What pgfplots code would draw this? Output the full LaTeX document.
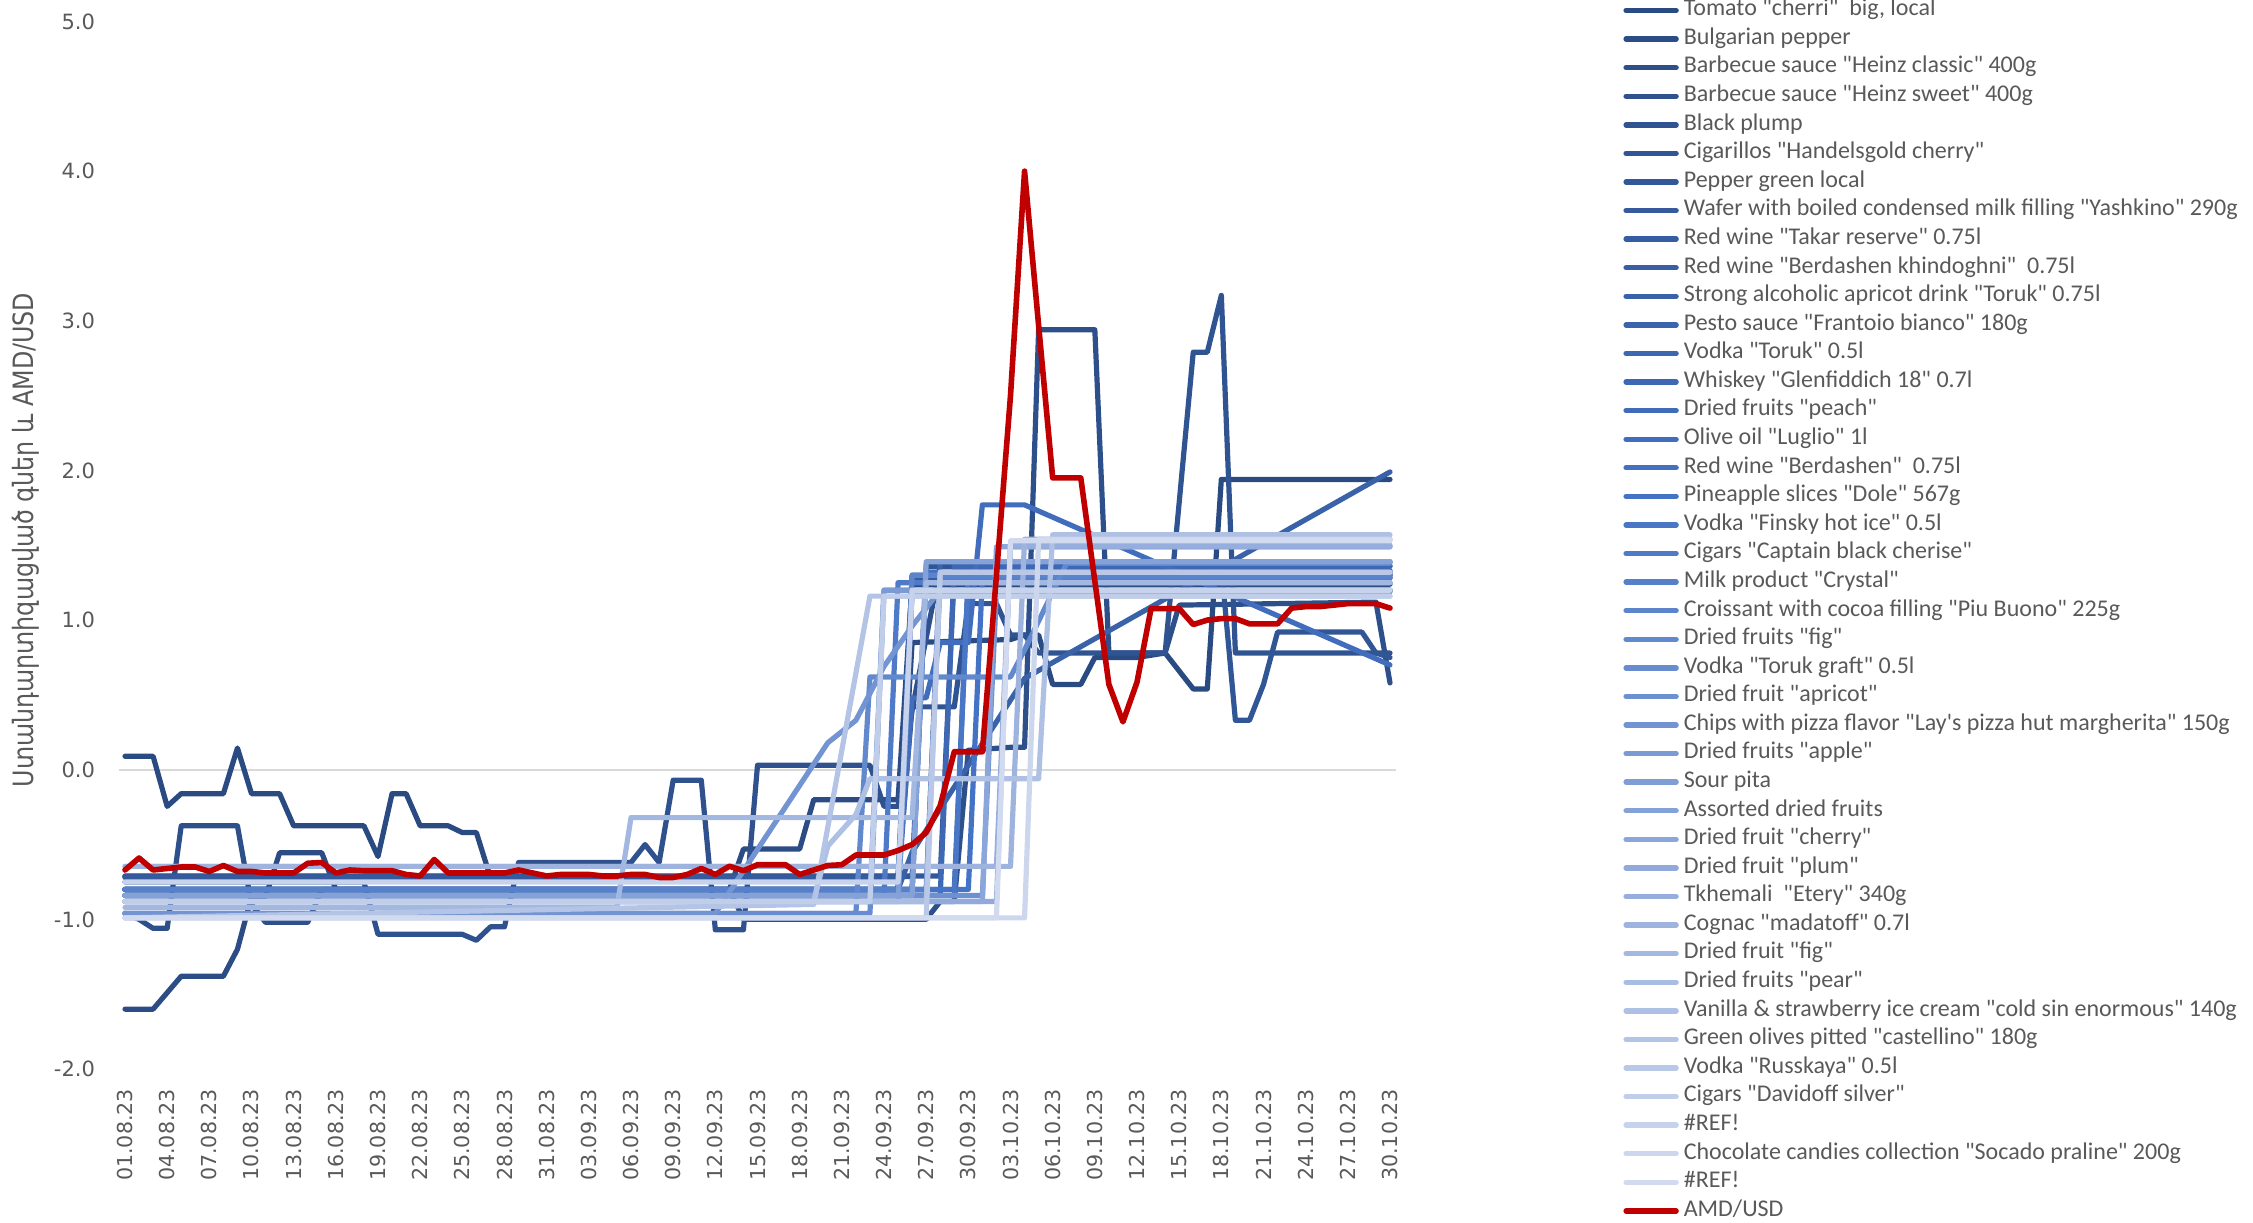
\documentclass[border=0pt]{standalone}
\usepackage{pgfplots}
\pgfplotsset{compat=1.18}
\usepackage{fontspec}
\setmainfont{Carlito}[Ligatures=TeXOff]
\newfontfamily\tickfont{DejaVu Sans}
\newfontfamily\armfont[FakeStretch=0.85]{DejaVu Sans}
\definecolor{txt}{HTML}{595959}
\definecolor{cdark}{HTML}{2A4A82}
\definecolor{cbase}{HTML}{4472C4}
\definecolor{clight}{HTML}{D2DAEF}
\definecolor{cred}{HTML}{C00000}
\colorlet{s1}{cdark}
\colorlet{s2}{cbase!6!cdark}
\colorlet{s3}{cbase!12!cdark}
\colorlet{s4}{cbase!18!cdark}
\colorlet{s5}{cbase!24!cdark}
\colorlet{s6}{cbase!29!cdark}
\colorlet{s7}{cbase!35!cdark}
\colorlet{s8}{cbase!41!cdark}
\colorlet{s9}{cbase!47!cdark}
\colorlet{s10}{cbase!53!cdark}
\colorlet{s11}{cbase!59!cdark}
\colorlet{s12}{cbase!65!cdark}
\colorlet{s13}{cbase!71!cdark}
\colorlet{s14}{cbase!76!cdark}
\colorlet{s15}{cbase!82!cdark}
\colorlet{s16}{cbase!88!cdark}
\colorlet{s17}{cbase!94!cdark}
\colorlet{s18}{cbase}
\colorlet{s19}{clight!4!cbase}
\colorlet{s20}{clight!8!cbase}
\colorlet{s21}{clight!13!cbase}
\colorlet{s22}{clight!17!cbase}
\colorlet{s23}{clight!21!cbase}
\colorlet{s24}{clight!25!cbase}
\colorlet{s25}{clight!29!cbase}
\colorlet{s26}{clight!33!cbase}
\colorlet{s27}{clight!38!cbase}
\colorlet{s28}{clight!42!cbase}
\colorlet{s29}{clight!46!cbase}
\colorlet{s30}{clight!50!cbase}
\colorlet{s31}{clight!54!cbase}
\colorlet{s32}{clight!58!cbase}
\colorlet{s33}{clight!63!cbase}
\colorlet{s34}{clight!67!cbase}
\colorlet{s35}{clight!71!cbase}
\colorlet{s36}{clight!75!cbase}
\colorlet{s37}{clight!79!cbase}
\colorlet{s38}{clight!83!cbase}
\colorlet{s39}{clight!88!cbase}
\colorlet{s40}{clight!92!cbase}
\colorlet{s41}{clight!96!cbase}
\colorlet{s42}{clight}
\begin{document}
\begin{tikzpicture}
\useasboundingbox (0,0) rectangle (1126.5pt,611pt);
\begin{axis}[
  at={(62.5pt,76.5pt)}, anchor=south west,
  scale only axis, width=632.5pt, height=523.75pt,
  xmin=0, xmax=90, ymin=-2, ymax=5,
  clip=false,
  axis line style={draw=none},
  major tick length=0pt,
  tick style={draw=none},
  ytick={-2,-1,0,1,2,3,4,5},
  yticklabels={-2.0,-1.0,0.0,1.0,2.0,3.0,4.0,5.0},
  yticklabel style={font=\tickfont\fontsize{10.5}{12}\selectfont, text=txt, xshift=-11.5pt},
  xtick={0,3,...,90},
  xticklabels={01.08.23,04.08.23,07.08.23,10.08.23,13.08.23,16.08.23,19.08.23,22.08.23,25.08.23,28.08.23,31.08.23,03.09.23,06.09.23,09.09.23,12.09.23,15.09.23,18.09.23,21.09.23,24.09.23,27.09.23,30.09.23,03.10.23,06.10.23,09.10.23,12.10.23,15.10.23,18.10.23,21.10.23,24.10.23,27.10.23,30.10.23},
  xticklabel style={font=\tickfont\fontsize{10.3}{12}\selectfont, text=txt, yshift=-6.5pt, rotate=90, anchor=east},
  ylabel={\armfont\fontsize{14}{16}\selectfont Ստանդարտիզացված գներ և AMD/USD},
  ylabel style={at={(axis description cs:-0.0783,0.505)}, anchor=center, text=txt},
  every axis plot/.append style={line width=2.6pt, line join=round, line cap=round, mark=none},
  legend cell align=left,
  legend image code/.code={\draw[line width=2.7pt, line cap=round] (0pt,0pt) -- (25pt,0pt);},
  legend style={at={(axis description cs:1.18419,1.02454)}, anchor=north west, draw=none, fill=none,
    inner xsep=0pt, inner ysep=0pt, row sep=0pt, column sep=2.5pt,
    font=\fontsize{12}{14}\selectfont, text=txt,
    nodes={inner sep=0pt, text height=9.8pt, text depth=4.49pt}},
]
\draw[color=black!15, line width=1pt] (axis cs:-0.4,0) -- (axis cs:90.4,0);

\addplot[s1] coordinates {(0,0.09)(2,0.09)(3,-0.245)(4,-0.16)(7,-0.16)(8,0.145)(9,-0.16)(11,-0.16)(12,-0.375)(17,-0.375)(18,-0.58)(19,-0.16)(20,-0.16)(21,-0.375)(23,-0.375)(24,-0.42)(25,-0.42)(26,-0.72)(55,-0.72)(56,0.85)(63,0.87)(64,0.9)(65,0.9)(66,0.57)(68,0.57)(69,0.75)(72,0.75)(74,0.78)(76,0.54)(77,0.54)(78,1.94)(90,1.94)};
\addlegendentry{Tomato "cherri"\ \ big, local}
\addplot[s2] coordinates {(0,-1.6)(2,-1.6)(4,-1.38)(7,-1.38)(8,-1.2)(9,-0.85)(10,-0.85)(11,-0.555)(14,-0.555)(15,-0.8)(43,-0.8)(44,-0.53)(48,-0.53)(49,-0.2)(55,-0.2)(56,1.24)(90,1.24)};
\addlegendentry{Bulgarian pepper}
\addplot[s3] coordinates {(0,-0.96)(1,-1.0)(2,-1.06)(3,-1.06)(4,-0.375)(8,-0.375)(9,-0.9)(10,-1.02)(13,-1.02)(14,-0.8)(43,-0.8)(44,-1.0)(57,-1.0)(58,-0.88)(59,-0.88)(60,0.13)(63,0.15)(64,0.15)(65,2.94)(69,2.94)(70,0.78)(74,0.78)(75,1.1)(89,1.12)(90,0.58)};
\addlegendentry{Barbecue sauce "Heinz classic" 400g}
\addplot[s4] coordinates {(0,-0.75)(17,-0.75)(18,-1.1)(24,-1.1)(25,-1.14)(26,-1.05)(27,-1.05)(28,-0.62)(36,-0.62)(37,-0.5)(38,-0.62)(39,-0.07)(41,-0.07)(42,-1.07)(44,-1.07)(45,0.03)(53,0.03)(54,-0.245)(55,-0.245)(56,0.4)(58,1.36)(90,1.36)};
\addlegendentry{Barbecue sauce "Heinz sweet" 400g}
\addplot[s5] coordinates {(0,-0.714)(55,-0.714)(56,0.42)(59,0.42)(60,1.11)(62,1.11)(63,0.9)(64,0.9)(65,0.78)(74,0.78)(76,2.79)(77,2.79)(78,3.17)(79,0.78)(90,0.78)};
\addlegendentry{Black plump}
\addplot[s6] coordinates {(0,-0.714)(56,-0.714)(57,1.36)(78,1.36)(79,0.33)(80,0.33)(81,0.57)(82,0.92)(88,0.92)(89,0.78)(90,0.75)};
\addlegendentry{Cigarillos "Handelsgold cherry"}
\addplot[s7] coordinates {(0,-0.71)(58,-0.71)(59,1.33)(90,1.33)};
\addlegendentry{Pepper green local}
\addplot[s8] coordinates {(0,-0.72)(55,-0.72)(56,1.3)(90,1.3)};
\addlegendentry{Wafer with boiled condensed milk filling "Yashkino" 290g}
\addplot[s9] coordinates {(0,-0.8)(55,-0.8)(56,1.285)(90,1.285)};
\addlegendentry{Red wine "Takar reserve" 0.75l}
\addplot[s10] coordinates {(0,-0.8)(56,-0.8)(57,1.32)(90,1.32)};
\addlegendentry{Red wine "Berdashen khindoghni"\ \ 0.75l}
\addplot[s11] coordinates {(0,-0.8)(55,-0.8)(56,-0.55)(64,0.61)(90,1.99)};
\addlegendentry{Strong alcoholic apricot drink "Toruk" 0.75l}
\addplot[s12] coordinates {(0,-0.84)(57,-0.84)(58,1.39)(90,1.39)};
\addlegendentry{Pesto sauce "Frantoio bianco" 180g}
\addplot[s13] coordinates {(0,-0.8)(59,-0.8)(60,1.3)(90,1.3)};
\addlegendentry{Vodka "Toruk" 0.5l}
\addplot[s14] coordinates {(0,-0.84)(58,-0.84)(59,1.36)(90,1.36)};
\addlegendentry{Whiskey "Glenfiddich 18" 0.7l}
\addplot[s15] coordinates {(0,-0.8)(55,-0.8)(56,1.2)(90,1.2)};
\addlegendentry{Dried fruits "peach"}
\addplot[s16] coordinates {(0,-0.8)(55,-0.8)(56,0.48)(57,0.48)(58,0.85)(60,0.85)(61,1.77)(64,1.77)(90,0.70)};
\addlegendentry{Olive oil "Luglio" 1l}
\addplot[s17] coordinates {(0,-0.8)(56,-0.8)(57,1.32)(90,1.32)};
\addlegendentry{Red wine "Berdashen"\ \ 0.75l}
\addplot[s18] coordinates {(0,-0.8)(60,-0.8)(61,1.285)(90,1.285)};
\addlegendentry{Pineapple slices "Dole" 567g}
\addplot[s19] coordinates {(0,-0.84)(59,-0.84)(60,1.31)(90,1.31)};
\addlegendentry{Vodka "Finsky hot ice" 0.5l}
\addplot[s20] coordinates {(0,-0.84)(54,-0.84)(55,1.25)(90,1.25)};
\addlegendentry{Cigars "Captain black cherise"}
\addplot[s21] coordinates {(0,-0.8)(57,-0.8)(58,1.28)(90,1.28)};
\addlegendentry{Milk product "Crystal"}
\addplot[s22] coordinates {(0,-0.84)(55,-0.84)(56,1.3)(90,1.3)};
\addlegendentry{Croissant with cocoa filling "Piu Buono" 225g}
\addplot[s23] coordinates {(0,-0.96)(52,-0.96)(53,0.62)(63,0.62)(64,0.8)(67,1.38)(90,1.38)};
\addlegendentry{Dried fruits "fig"}
\addplot[s24] coordinates {(0,-0.96)(53,-0.96)(54,1.2)(90,1.2)};
\addlegendentry{Vodka "Toruk graft" 0.5l}
\addplot[s25] coordinates {(0,-0.84)(61,-0.84)(62,1.19)(90,1.19)};
\addlegendentry{Dried fruit "apricot"}
\addplot[s26] coordinates {(0,-0.96)(42,-0.96)(50,0.18)(52,0.33)(54,0.69)(56,0.96)(58,1.2)(90,1.2)};
\addlegendentry{Chips with pizza flavor "Lay's pizza hut margherita" 150g}
\addplot[s27] coordinates {(0,-0.84)(53,-0.84)(54,1.2)(90,1.2)};
\addlegendentry{Dried fruits "apple"}
\addplot[s28] coordinates {(0,-0.88)(55,-0.88)(56,1.19)(90,1.19)};
\addlegendentry{Sour pita}
\addplot[s29] coordinates {(0,-0.84)(56,-0.84)(57,1.39)(90,1.39)};
\addlegendentry{Assorted dried fruits}
\addplot[s30] coordinates {(0,-0.88)(61,-0.88)(62,1.49)(90,1.49)};
\addlegendentry{Dried fruit "cherry"}
\addplot[s31] coordinates {(0,-0.88)(62,-0.88)(63,1.49)(90,1.49)};
\addlegendentry{Dried fruit "plum"}
\addplot[s32] coordinates {(0,-0.646)(62,-0.646)(63,1.5)(90,1.5)};
\addlegendentry{Tkhemali\ \ "Etery" 340g}
\addplot[s33] coordinates {(0,-0.646)(63,-0.646)(64,1.54)(90,1.54)};
\addlegendentry{Cognac "madatoff" 0.7l}
\addplot[s34] coordinates {(0,-0.92)(35,-0.92)(36,-0.32)(56,-0.32)(57,1.25)(90,1.25)};
\addlegendentry{Dried fruit "fig"}
\addplot[s35] coordinates {(0,-0.88)(57,-0.88)(58,1.32)(90,1.32)};
\addlegendentry{Dried fruits "pear"}
\addplot[s36] coordinates {(0,-0.88)(49,-0.88)(50,-0.51)(52,-0.3)(53,-0.06)(65,-0.06)(66,1.57)(90,1.57)};
\addlegendentry{Vanilla \& strawberry ice cream "cold sin enormous" 140g}
\addplot[s37] coordinates {(0,-0.99)(49,-0.9)(53,1.16)(90,1.16)};
\addlegendentry{Green olives pitted "castellino" 180g}
\addplot[s38] coordinates {(0,-0.99)(57,-0.99)(58,1.32)(90,1.32)};
\addlegendentry{Vodka "Russkaya" 0.5l}
\addplot[s39] coordinates {(0,-0.88)(53,-0.88)(54,1.16)(90,1.16)};
\addlegendentry{Cigars "Davidoff silver"}
\addplot[s40] coordinates {(0,-0.75)(55,-0.75)(56,1.2)(90,1.2)};
\addlegendentry{\#REF!}
\addplot[s41] coordinates {(0,-0.99)(64,-0.99)(65,1.54)(90,1.54)};
\addlegendentry{Chocolate candies collection "Socado praline" 200g}
\addplot[s42] coordinates {(0,-0.99)(62,-0.99)(63,1.53)(90,1.53)};
\addlegendentry{\#REF!}
\addplot[cred, line width=2.8pt] coordinates {(0,-0.67)(1,-0.59)(2,-0.67)(3,-0.66)(4,-0.65)(5,-0.65)(6,-0.68)(7,-0.64)(8,-0.68)(9,-0.68)(10,-0.69)(11,-0.69)(12,-0.69)(13,-0.625)(14,-0.62)(15,-0.69)(16,-0.67)(17,-0.675)(18,-0.675)(19,-0.675)(20,-0.70)(21,-0.71)(22,-0.60)(23,-0.69)(24,-0.69)(25,-0.69)(26,-0.69)(27,-0.69)(28,-0.67)(29,-0.69)(30,-0.71)(31,-0.70)(32,-0.70)(33,-0.70)(34,-0.71)(35,-0.71)(36,-0.70)(37,-0.70)(38,-0.72)(39,-0.72)(40,-0.70)(41,-0.66)(42,-0.70)(43,-0.645)(44,-0.675)(45,-0.635)(46,-0.635)(47,-0.635)(48,-0.70)(49,-0.67)(50,-0.64)(51,-0.635)(52,-0.57)(53,-0.57)(54,-0.57)(55,-0.54)(56,-0.5)(57,-0.42)(58,-0.24)(59,0.12)(60,0.12)(61,0.12)(62,1.3)(63,2.5)(64,4.0)(65,2.97)(66,1.95)(67,1.95)(68,1.95)(69,1.26)(70,0.57)(71,0.32)(72,0.585)(73,1.077)(74,1.077)(75,1.077)(76,0.97)(77,1.0)(78,1.01)(79,1.01)(80,0.975)(81,0.975)(82,0.975)(83,1.08)(84,1.09)(85,1.09)(86,1.10)(87,1.11)(88,1.11)(89,1.11)(90,1.08)};
\addlegendentry{AMD/USD}
\end{axis}
\end{tikzpicture}
\end{document}
